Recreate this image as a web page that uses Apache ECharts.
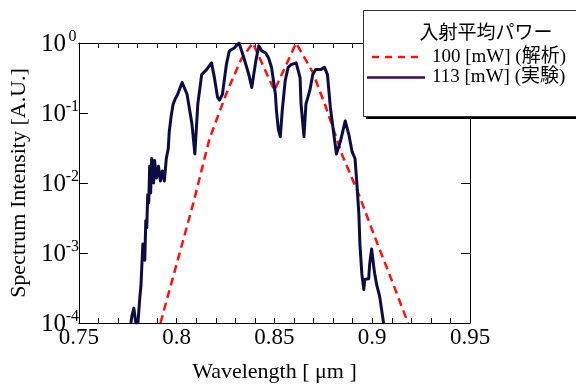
<!DOCTYPE html>
<html>
<head>
<meta charset="utf-8">
<script src="https://cdn.jsdelivr.net/npm/echarts@6/dist/echarts.min.js"></script>
<style>
  html, body { margin: 0; padding: 0; background: #fff; }
  #chart { width: 576px; height: 388px; }
</style>
</head>
<body>
<div id="chart"></div>
<script>
// measured spectrum (113 mW)
var expWavelength = [0.7766, 0.7771, 0.7781, 0.7791, 0.7802, 0.7812, 0.7817, 0.7827, 0.7837, 0.7842,
  0.7847, 0.7852, 0.7857, 0.7862, 0.7867, 0.7872, 0.7882, 0.7887, 0.7897, 0.7907,
  0.7917, 0.7927, 0.7937, 0.7947, 0.7957, 0.7962, 0.7972, 0.7982, 0.7992, 0.8003,
  0.8028, 0.8053, 0.8078, 0.8093, 0.8108, 0.8128, 0.8153, 0.8178, 0.8193, 0.8209,
  0.8219, 0.8234, 0.8254, 0.8269, 0.8294, 0.8319, 0.8344, 0.8369, 0.8384, 0.8405,
  0.8420, 0.8435, 0.8455, 0.8470, 0.8485, 0.8505, 0.8510, 0.8520, 0.8530, 0.8540,
  0.8555, 0.8570, 0.8585, 0.8611, 0.8631, 0.8636, 0.8651, 0.8661, 0.8681, 0.8696,
  0.8711, 0.8736, 0.8756, 0.8771, 0.8786, 0.8807, 0.8817, 0.8837, 0.8862, 0.8882,
  0.8897, 0.8912, 0.8922, 0.8932, 0.8937, 0.8947, 0.8957, 0.8962, 0.8982, 0.8987,
  0.8997, 0.9008, 0.9013, 0.9023, 0.9038, 0.9058];
var expIntensity = [1.0e-4, 1.26e-4, 1.63e-4, 1.0e-4, 1.0e-4, 2.4e-4, 3.3e-4, 1.34e-3, 7.9e-4, 2.9e-3,
  2.3e-3, 6.8e-3, 5.2e-3, 1.74e-2, 7.2e-3, 2.24e-2, 1.0e-2, 2.1e-2, 1.18e-2, 1.74e-2,
  1.07e-2, 1.48e-2, 1.07e-2, 2.24e-2, 3.1e-2, 5.4e-2, 9.1e-2, 0.134, 0.158, 0.179,
  0.273, 0.185, 0.070, 0.026, 0.134, 0.354, 0.417, 0.52, 0.32, 0.168,
  0.153, 0.185, 0.49, 0.77, 0.85, 1.0, 0.61, 0.354, 0.232, 0.56,
  0.91, 0.77, 0.72, 0.61, 0.45, 0.185, 0.11, 0.058, 0.046, 0.11,
  0.29, 0.45, 0.49, 0.52, 0.32, 0.134, 0.046, 0.134, 0.21, 0.354,
  0.417, 0.417, 0.45, 0.354, 0.12, 0.042, 0.026, 0.039, 0.077, 0.047,
  0.028, 0.0224, 0.0094, 0.0035, 0.00134, 0.0005, 0.0003, 0.00042, 0.00043, 0.0007,
  0.00114, 0.00063, 0.0005, 0.00035, 0.00024, 0.0001];

// calculated spectrum (100 mW)
var simWavelength = [0.7917, 0.7992, 0.8083, 0.8168, 0.8254, 0.8329, 0.8389, 0.8500,
  0.8611, 0.8696, 0.8761, 0.8847, 0.8932, 0.9013, 0.9098, 0.9183];
var simIntensity = [1.0e-4, 5.8e-4, 4.9e-3, 4.3e-2, 0.19, 0.58, 1.0, 0.21,
  1.0, 0.38, 0.126, 0.025, 0.0068, 0.0017, 0.00042, 0.0001];

var seriesNames = ['100 [mW] (解析)', '113 [mW] (実験)'];
var legendTitle = '入射平均パワー';
var xTicks = { min: 0.75, max: 0.95, step: 0.05 };
var yRange = { min: 1e-4, max: 1 };

var serif = 'Liberation Serif, Times New Roman, serif';
var mixed = '19px "Liberation Serif", "Noto Sans CJK JP", serif';
var simColor = '#ff1010';
var expColor = '#0c0c45';

function pairs(xs, ys) {
  return xs.map(function (x, i) { return [x, ys[i]]; });
}

var chart = echarts.init(document.getElementById('chart'), null, { renderer: 'canvas' });

var xBase = {
  type: 'value', min: xTicks.min, max: xTicks.max, interval: xTicks.step,
  axisLine: { show: true, onZero: false, lineStyle: { color: '#000', width: 1 } },
  axisTick: { show: true, inside: true, length: 5, lineStyle: { color: '#000' } },
  minorTick: { show: true, splitNumber: 5, length: 5, lineStyle: { color: '#000' } },
  splitLine: { show: false }
};
var yBase = {
  type: 'log', logBase: 10, min: yRange.min, max: yRange.max,
  axisLine: { show: true, lineStyle: { color: '#000', width: 1 } },
  axisTick: { show: true, inside: true, length: 9, lineStyle: { color: '#000' } },
  splitLine: { show: false }
};

// legend is drawn by hand: box with shadow, title, two sample lines
var legendGraphics = [
  { type: 'rect', z: 50, shape: { x: 366, y: 13, width: 230, height: 106 }, style: { fill: '#000' } },
  { type: 'rect', z: 51, shape: { x: 363.5, y: 10.5, width: 230, height: 106 },
    style: { fill: '#fff', stroke: '#333', lineWidth: 1 } },
  { type: 'text', z: 60, x: 486, y: 32,
    style: { text: legendTitle, font: '19px "Noto Sans CJK JP"', fill: '#000',
             textAlign: 'center', textVerticalAlign: 'middle' } },
  { type: 'line', z: 60, shape: { x1: 372, y1: 57, x2: 421, y2: 57 },
    style: { stroke: simColor, lineWidth: 2.5, lineDash: [7, 6] } },
  { type: 'text', z: 60, x: 432, y: 57,
    style: { text: seriesNames[0], font: mixed, fill: '#000', textVerticalAlign: 'middle' } },
  { type: 'line', z: 60, shape: { x1: 367, y1: 77.5, x2: 425, y2: 77.5 },
    style: { stroke: '#3c0a4c', lineWidth: 2.5 } },
  { type: 'text', z: 60, x: 432, y: 77,
    style: { text: seriesNames[1], font: mixed, fill: '#000', textVerticalAlign: 'middle' } }
];

chart.setOption({
  animation: false,
  backgroundColor: '#fff',
  grid: { left: 72, top: 43, width: 398, height: 284 },
  xAxis: [
    Object.assign({}, xBase, {
      position: 'bottom',
      name: 'Wavelength [ μm ]', nameLocation: 'middle', nameGap: 38,
      nameTextStyle: { fontFamily: serif, fontSize: 22, color: '#000' },
      axisLabel: { margin: 3, fontFamily: serif, fontSize: 23, color: '#000' }
    }),
    Object.assign({}, xBase, { position: 'top', axisLabel: { show: false } })
  ],
  yAxis: [
    Object.assign({}, yBase, {
      position: 'left',
      name: 'Spectrum Intensity [A.U.]', nameLocation: 'middle', nameGap: 47,
      nameTextStyle: { fontFamily: serif, fontSize: 22, color: '#000' },
      axisLabel: {
        margin: 0,
        formatter: function (v) {
          return '{b|10}{s|' + Math.round(Math.log10(v)) + '}';
        },
        rich: {
          b: { fontFamily: serif, fontSize: 25, color: '#000', lineHeight: 28, padding: [3, 0, 0, 0] },
          s: { fontFamily: serif, fontSize: 16, color: '#000', width: 13, align: 'left',
               verticalAlign: 'top', lineHeight: 16 }
        }
      }
    }),
    Object.assign({}, yBase, { position: 'right', axisLabel: { show: false } })
  ],
  graphic: legendGraphics,
  series: [
    {
      name: seriesNames[0], type: 'line', xAxisIndex: 0, yAxisIndex: 0,
      data: pairs(simWavelength, simIntensity),
      symbol: 'none', showSymbol: false, clip: true, z: 2,
      lineStyle: { color: simColor, width: 2.5, type: [8, 5] }
    },
    {
      name: seriesNames[1], type: 'line', xAxisIndex: 0, yAxisIndex: 0,
      data: pairs(expWavelength, expIntensity),
      symbol: 'none', showSymbol: false, clip: true, z: 3,
      lineStyle: { color: expColor, width: 3, join: 'round' }
    }
  ]
});
</script>
</body>
</html>
